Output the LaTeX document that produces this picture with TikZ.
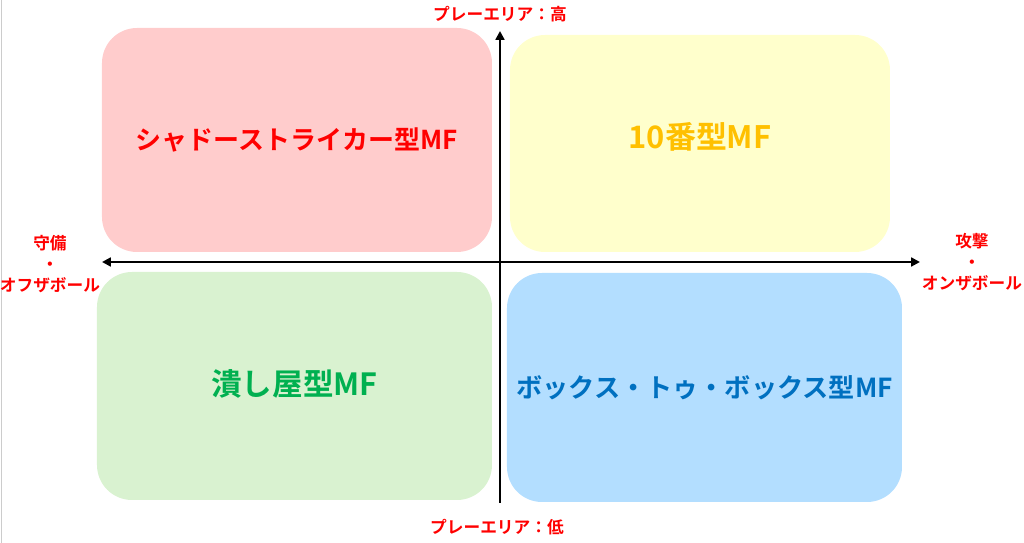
\documentclass[tikz,border=0pt]{standalone}
\usepackage{fontspec}
\usepackage{tikz}
\usetikzlibrary{arrows.meta}

\newfontfamily\jpfont{Noto Sans CJK JP}[BoldFont={Noto Sans CJK JP Bold}]
\newcommand{\jpb}[1]{\jpfont\bfseries\fontsize{#1}{#1}\selectfont}

\definecolor{shadowfill}{HTML}{FFCCCC}
\definecolor{tenfill}{HTML}{FFFFCC}
\definecolor{tentext}{HTML}{FFC000}
\definecolor{crushfill}{HTML}{D9F2D0}
\definecolor{crushtext}{HTML}{00B050}
\definecolor{boxfill}{HTML}{B3DEFF}
\definecolor{boxtext}{HTML}{0070C0}

\tikzset{
	quadrant/.style={rounded corners=0.7cm, inner sep=0pt, minimum width=7.8cm, minimum height=4.48cm},
	axislabel/.style={text=red, align=center, font=\jpfont\bfseries\fontsize{9.5}{11.9}\selectfont},
	axisline/.style={line width=1.4pt}
}

\begin{document}
\begin{tikzpicture}
			\useasboundingbox (-10,-5.62) rectangle (10.48,5.24);
			\draw[black!20] (-9.98,-5.62) -- (-9.98,5.24);
			
			% Draw the four quadrants
			\node[quadrant, fill=shadowfill, text=red, font=\jpb{14.8}] (shadow) at (-4.06,2.44) {\raisebox{-0.08cm}{シャドーストライカー型MF}};
			\node[quadrant, fill=tenfill, text=tentext, minimum width=7.6cm, minimum height=4.34cm, font=\jpb{17.6}] (ten) at (4.0,2.37) {\raisebox{0.32cm}{10番型MF}};
			\node[quadrant, fill=crushfill, text=crushtext, minimum width=7.9cm, minimum height=4.56cm, font=\jpb{17.4}] (crush) at (-4.11,-2.48) {\raisebox{0.12cm}{潰し屋型MF}};
			\node[quadrant, fill=boxfill, text=boxtext, minimum width=7.9cm, minimum height=4.58cm, font=\jpb{14.9}] (b2b) at (4.09,-2.51) {\raisebox{-0.24cm}{ボックス・トゥ・ボックス型MF}};
			
			% Draw the axes
			\coordinate (west) at (-7.96,0);
			\coordinate (east) at (8.4,0);
			\coordinate (south) at (0,-4.82);
			\coordinate (north) at (0,4.62);
			\draw[axisline, {Triangle[length=5pt,width=5pt]}-{Triangle[length=5pt,width=5pt]}] (west) -- (east);
			\draw[axisline, -{Triangle[length=5pt,width=5pt]}] (south) -- (north);
			
			% Label the axes
			\node[axislabel] (high) at (0,4.96) {プレーエリア：高};
			\node[axislabel] (low) at (-0.06,-5.3) {プレーエリア：低};
			\node[axislabel] (defence) at (-9,-0.04) {守備\\・\\オフザボール};
			\node[axislabel] (attack) at (9.44,0) {攻撃\\・\\オンザボール};
		\end{tikzpicture}
\end{document}
